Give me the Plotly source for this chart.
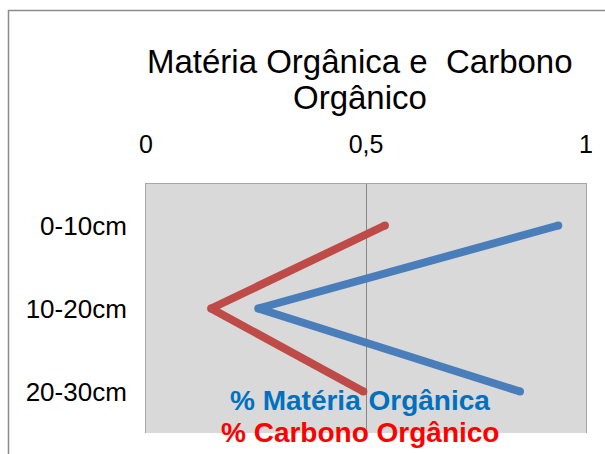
import plotly.graph_objects as go

# Soil depth layers (category axis, top to bottom)
depths = ["0-10cm", "10-20cm", "20-30cm"]

# Percent values per layer
materia_organica = [0.937, 0.255, 0.850]
carbono_organico = [0.543, 0.148, 0.494]

series_names = ["% Matéria Orgânica", "% Carbono Orgânico"]
title_lines = ["Matéria Orgânica e\u00a0 Carbono", "Orgânico"]

W, H = 605, 454
L, R, T, B = 146, 19, 184, 21
PW, PH = W - L - R, H - T - B


def px_x(x):
    return (x - L) / PW


def px_y(y):
    return (H - B - y) / PH


FONT = "Liberation Sans, Arial, sans-serif"
line_colors = ["#4A7EBB", "#BE4B48"]
text_colors = ["#0070C0", "#FF0000"]

fig = go.Figure()
for vals, name, col in zip([materia_organica, carbono_organico], series_names, line_colors):
    fig.add_trace(go.Scatter(
        x=vals, y=depths, name=name, mode="lines+markers",
        line=dict(color=col, width=8),
        marker=dict(color=col, size=8, line=dict(width=0)),
        showlegend=False, hoverinfo="skip",
    ))

# Series labels drawn as coloured text inside the plot
for i, (name, col) in enumerate(zip(series_names, text_colors)):
    fig.add_annotation(
        x=px_x(360), y=px_y(400 + 32 * i), xref="paper", yref="paper",
        text="<b>" + name + "</b>", showarrow=False,
        xanchor="center", yanchor="middle",
        font=dict(family=FONT, size=28, color=col),
    )

# Two-line chart title
for i, t in enumerate(title_lines):
    fig.add_annotation(
        x=px_x(360), y=px_y(62 + 35 * i), xref="paper", yref="paper",
        text=t, showarrow=False, xanchor="center", yanchor="middle",
        font=dict(family=FONT, size=33, color="#000000"),
    )

# Outer chart frame (extends past the right and bottom edges)
fig.add_shape(type="rect", xref="paper", yref="paper",
              x0=px_x(8.5), x1=px_x(700), y0=px_y(10.5), y1=px_y(560),
              line=dict(color="#8C8C8C", width=1.5), fillcolor="rgba(0,0,0,0)",
              layer="below")

fig.update_layout(
    width=W, height=H,
    margin=dict(l=L, r=R, t=T, b=B),
    paper_bgcolor="#FFFFFF",
    plot_bgcolor="#D9D9D9",
    separators=", ",
    font=dict(family=FONT, color="#000000"),
    xaxis=dict(
        side="top", range=[0, 1], dtick=0.5, tick0=0,
        showgrid=True, gridcolor="#868686", gridwidth=1,
        zeroline=False, showline=True, linecolor="#A6A6A6", linewidth=1,
        ticks="", ticklabelstandoff=20,
        tickfont=dict(family=FONT, size=25, color="#000000"),
        fixedrange=True,
    ),
    yaxis=dict(
        type="category", categoryorder="array", categoryarray=depths,
        range=[2.5, -0.5], showgrid=False, zeroline=False,
        showline=True, mirror=True, linecolor="#A6A6A6", linewidth=1,
        ticks="", ticklabelstandoff=13,
        tickfont=dict(family=FONT, size=26, color="#000000"),
        fixedrange=True,
    ),
)

fig.write_html("out.html")
